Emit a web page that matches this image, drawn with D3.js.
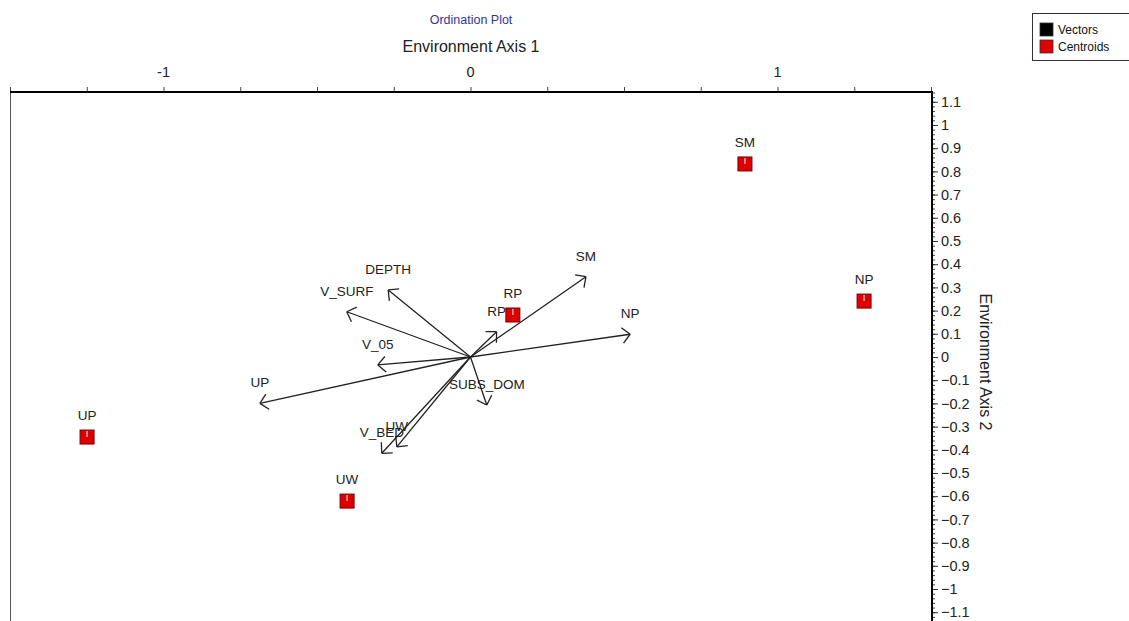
<!DOCTYPE html>
<meta charset="utf-8">
<title>Ordination Plot</title>
<style>
  body { margin: 0; background: #fff; }
  text { font-family: "Liberation Sans", Arial, sans-serif; }
</style>
<body>
<script src="https://cdn.jsdelivr.net/npm/d3@7"></script>
<script>

// biplot vectors (environment variables / groups)
var vectorNames = ["SM", "NP", "RP", "DEPTH", "V_SURF", "V_05", "UP", "SUBS_DOM", "UW", "V_BED"];
var vectorX = [0.376, 0.520, 0.085, -0.268, -0.403, -0.302, -0.686, 0.053, -0.240, -0.289];
var vectorY = [0.346, 0.098, 0.109, 0.289, 0.195, -0.034, -0.200, -0.207, -0.387, -0.415];

// group centroids
var centroidNames = ["SM", "NP", "RP", "UP", "UW"];
var centroidX = [0.894, 1.282, 0.138, -1.249, -0.402];
var centroidY = [0.832, 0.241, 0.181, -0.345, -0.621];

// axis ticks
var xMajor = [-1, 0, 1];
var xMinor = d3.range(-1.5, 1.51, 0.25);
var yMajor = d3.range(-11, 12).map(function(d){ return d / 10; });
var yMinor = d3.range(-57, 58).map(function(d){ return d / 50; });

var legendItems = ["Vectors", "Centroids"];
var legendColors = ["#000", "#e00000"];

var width = 1129, height = 621;

var svg = d3.select("body").append("svg")
    .attr("width", width)
    .attr("height", height);

var x = d3.scaleLinear().domain([-1.5, 1.5]).range([10, 931]);
var y = d3.scaleLinear().domain([-1.14, 1.14]).range([621.5, 92.5]);

//Title and axis titles
svg.append("text")
    .attr("x", 471).attr("y", 24)
    .attr("text-anchor", "middle")
    .style("font-size", "12.5px")
    .attr("fill", "#33339e")
    .text("Ordination Plot");

svg.append("text")
    .attr("x", 471).attr("y", 52)
    .attr("text-anchor", "middle")
    .style("font-size", "16px")
    .attr("fill", "#222")
    .text("Environment Axis 1");

svg.append("text")
    .attr("transform", "translate(980,362) rotate(90)")
    .attr("text-anchor", "middle")
    .style("font-size", "16px")
    .attr("fill", "#222")
    .text("Environment Axis 2");

//Frame
svg.append("line")
    .attr("x1", 10.5).attr("x2", 10.5).attr("y1", 92).attr("y2", height)
    .attr("stroke", "#555").attr("stroke-width", 1);

//Top axis
var topAxis = d3.axisTop(x).tickValues(xMinor).tickSize(5).tickFormat("");
svg.append("g")
    .attr("transform", "translate(0,92)")
    .call(topAxis)
    .call(function(g){
      g.select(".domain").remove();
      g.selectAll("line").attr("stroke", "#444");
    });

svg.append("g").selectAll("text")
    .data(xMajor)
    .enter().append("text")
    .attr("x", function(d){ return x(d); })
    .attr("y", 77)
    .attr("text-anchor", "middle")
    .style("font-size", "14.5px")
    .attr("fill", "#222")
    .text(function(d){ return d; });

svg.append("line")
    .attr("x1", 10).attr("x2", 933).attr("y1", 92).attr("y2", 92)
    .attr("stroke", "#000").attr("stroke-width", 2);

//Right axis
var rightMinor = d3.axisRight(y).tickValues(yMinor).tickSize(3).tickFormat("");
svg.append("g")
    .attr("transform", "translate(932,0)")
    .call(rightMinor)
    .call(function(g){
      g.select(".domain").remove();
      g.selectAll("line").attr("stroke", "#444");
    });

var rightAxis = d3.axisRight(y).tickValues(yMajor).tickSize(6).tickPadding(3)
    .tickFormat(function(d){ return d3.format("")(+d.toFixed(1)); });
svg.append("g")
    .attr("transform", "translate(932,0)")
    .call(rightAxis)
    .call(function(g){
      g.select(".domain").remove();
      g.selectAll("line").attr("stroke", "#333");
      g.selectAll("text")
        .style("font-size", "14.5px")
        .style("font-family", "'Liberation Sans', Arial, sans-serif")
        .attr("fill", "#222");
    });

svg.append("line")
    .attr("x1", 932).attr("x2", 932).attr("y1", 91).attr("y2", height)
    .attr("stroke", "#000").attr("stroke-width", 2);

//Vectors
var vectors = vectorNames.map(function(n, i){ return {name: n, x: vectorX[i], y: vectorY[i]}; });
var vg = svg.append("g");
var ox = x(0), oy = y(0);

vectors.forEach(function(d){
  var tx = x(d.x), ty = y(d.y);
  var back = Math.atan2(ty - oy, tx - ox) + Math.PI;
  var len = 11;
  vg.append("line")
    .attr("x1", ox).attr("y1", oy).attr("x2", tx).attr("y2", ty)
    .attr("stroke", "#222").attr("stroke-width", 1.3);
  [-Math.PI / 4, Math.PI / 4].forEach(function(a){
    vg.append("line")
      .attr("x1", tx).attr("y1", ty)
      .attr("x2", tx + len * Math.cos(back + a))
      .attr("y2", ty + len * Math.sin(back + a))
      .attr("stroke", "#222").attr("stroke-width", 1.3);
  });
  vg.append("text")
    .attr("x", tx).attr("y", ty - 16)
    .attr("text-anchor", "middle")
    .style("font-size", "13.5px")
    .attr("fill", "#222")
    .text(d.name);
});

//Centroids
var centroids = centroidNames.map(function(n, i){ return {name: n, x: centroidX[i], y: centroidY[i]}; });
var cg = svg.append("g").selectAll("g")
    .data(centroids)
    .enter().append("g")
    .attr("transform", function(d){ return "translate(" + x(d.x) + "," + y(d.y) + ")"; });

cg.append("rect")
    .attr("x", -7).attr("y", -7).attr("width", 14).attr("height", 14)
    .attr("fill", "#dd0000").attr("stroke", "#7a0000").attr("stroke-width", 1);

cg.append("line")
    .attr("x1", 0).attr("x2", 0).attr("y1", -6).attr("y2", 0)
    .attr("stroke", "#ffd0d0").attr("stroke-width", 1.2);

cg.append("text")
    .attr("y", -17)
    .attr("text-anchor", "middle")
    .style("font-size", "13.5px")
    .attr("fill", "#222")
    .text(function(d){ return d.name; });

//Legend
var legend = svg.append("g").attr("transform", "translate(1032,13)");
legend.append("rect")
    .attr("x", 0.5).attr("y", 0.5).attr("width", 100).attr("height", 47)
    .attr("fill", "#fff").attr("stroke", "#333");

var li = legend.selectAll(".item")
    .data(legendItems)
    .enter().append("g")
    .attr("class", "item")
    .attr("transform", function(d, i){ return "translate(8," + (10 + i * 17) + ")"; });

li.append("rect")
    .attr("width", 13).attr("height", 13)
    .attr("fill", function(d, i){ return legendColors[i]; })
    .attr("stroke", "#333").attr("stroke-width", 0.8);

li.append("text")
    .attr("x", 18).attr("y", 11)
    .style("font-size", "12px")
    .attr("fill", "#111")
    .text(function(d){ return d; });

</script>
</body>
